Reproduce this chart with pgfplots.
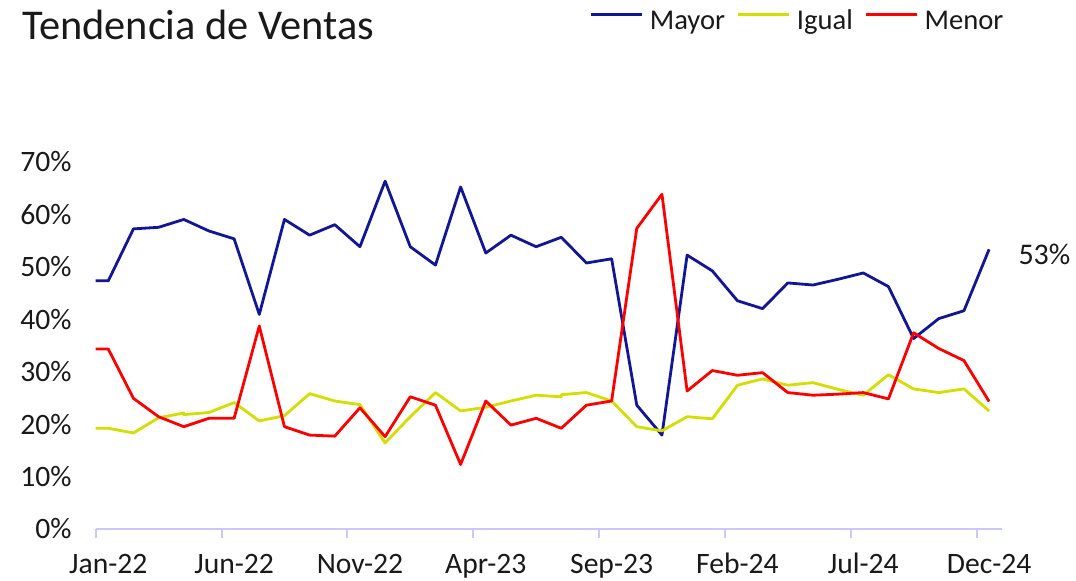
\documentclass[border=0pt]{standalone}
\usepackage{fontspec}
\setmainfont{Carlito}
\usepackage{pgfplots}
\usepackage{pgfplotstable}
\pgfplotsset{compat=1.18}
\definecolor{cMayor}{RGB}{16,22,150}
\definecolor{cIgual}{RGB}{212,222,0}
\definecolor{cMenor}{RGB}{255,0,0}
\definecolor{cAxis}{RGB}{200,200,250}

\pgfplotstableread{
x v
0 47.3
0.5 47.3
1.5 57.2
2.5 57.5
3.5 59.0
4.5 56.8
5.5 55.3
6.5 40.9
7.5 59.0
8.5 56.0
9.5 58.0
10.5 53.8
11.5 66.3
12.5 53.8
13.5 50.3
14.5 65.2
15.5 52.6
16.5 56.0
17.5 53.8
18.5 55.6
19.5 50.7
20.5 51.5
21.5 23.6
22.5 17.9
23.5 52.2
24.5 49.2
25.5 43.5
26.5 42.0
27.5 46.9
28.5 46.5
29.5 47.6
30.5 48.8
31.5 46.2
32.5 36.3
33.5 40.1
34.5 41.6
35.5 53.3
}\mayor

\pgfplotstableread{
x v
0 19.2
0.5 19.2
1.5 18.3
2.5 21.2
3.5 22.1
3.5 21.8
4.5 22.2
5.5 24.1
6.5 20.6
7.5 21.6
8.5 25.8
9.5 24.4
10.5 23.7
11.5 16.4
12.5 21.4
13.5 26.0
14.5 22.5
15.5 23.2
16.5 24.4
17.5 25.5
18.5 25.2
18.5 25.6
19.5 26.0
20.5 24.4
21.5 19.5
22.5 18.7
23.5 21.4
24.5 21.0
25.5 27.4
26.5 28.6
27.5 27.4
28.5 27.9
29.5 26.6
30.5 25.5
31.5 29.4
32.5 26.7
33.5 26.0
34.5 26.7
35.5 22.5
}\igual

\pgfplotstableread{
x v
0 34.3
0.5 34.3
1.5 24.9
2.5 21.4
3.5 19.5
4.5 21.1
5.5 21.1
6.5 38.7
7.5 19.5
8.5 17.9
9.5 17.7
10.5 23.1
11.5 17.6
12.5 25.2
13.5 23.6
14.5 12.3
15.5 24.4
16.5 19.8
17.5 21.1
18.5 19.2
19.5 23.6
20.5 24.4
21.5 57.3
22.5 63.8
23.5 26.3
24.5 30.2
25.5 29.3
26.5 29.8
27.5 26.0
28.5 25.5
29.5 25.7
30.5 26.0
31.5 24.8
32.5 37.4
33.5 34.4
34.5 32.1
35.5 24.3
}\menor

\begin{document}
\begin{tikzpicture}[x=1pt,y=1pt]
\useasboundingbox (-47.85,-25.5) rectangle (490.15,264.5);
\begin{axis}[
  at={(0,0)}, anchor=south west,
  scale only axis, width=453pt, height=183.65pt,
  xmin=0, xmax=36, ymin=0, ymax=70,
  clip=false,
  axis x line*=bottom, axis y line*=left,
  axis line style={-},
  x axis line style={cAxis, line width=1pt},
  y axis line style={draw=none},
  xtick={0,5,...,35},
  xticklabels={Jan-22,Jun-22,Nov-22,Apr-23,Sep-23,Feb-24,Jul-24,Dec-24},
  xtick style={cAxis, line width=1pt},
  tick align=outside, major tick length=4.5pt,
  ytick={0,10,...,70},
  yticklabels={0\%,10\%,20\%,30\%,40\%,50\%,60\%,70\%},
  ytick style={draw=none},
  tick label style={font=\fontsize{14.8}{16}\selectfont, text=black!90},
  xticklabel style={anchor=base, inner sep=0pt, xshift=6.3pt, yshift=-17.5pt},
  yticklabel style={anchor=east, inner sep=0pt, xshift=-7.35pt},
  legend columns=3,
  legend style={at={(axis description cs:0.5456,1.4147)}, anchor=north west,
    draw=none, fill=none, inner sep=0pt, outer sep=0pt,
    font=\fontsize{14.3}{16}\selectfont,
    nodes={inner sep=0pt, text=black!90, text height=10pt, text depth=3pt},
    /tikz/every odd column/.append style={column sep=3pt},
    /tikz/every even column/.append style={column sep=6pt}},
  legend image code/.code={\draw[#1] (0pt,4.15pt) -- (25.5pt,4.15pt);},
  every axis plot/.append style={line width=1.4pt, line join=round, no markers},
]
\addplot[cMayor] table[x=x,y=v] {\mayor};
\addlegendentry{Mayor}
\addplot[cIgual] table[x=x,y=v] {\igual};
\addlegendentry{Igual}
\addplot[cMenor] table[x=x,y=v] {\menor};
\addlegendentry{Menor}
\node[anchor=base west, font=\fontsize{15}{17}\selectfont, text=black!90, inner sep=0pt, xshift=14.5pt, yshift=-7.5pt] at (axis cs:35.5,53.3) {53\%};
\node[anchor=base west, font=\fontsize{21.2}{24}\selectfont, text=black!90, inner sep=0pt] at (axis description cs:-0.0817,1.3333) {Tendencia de Ventas};
\end{axis}
\end{tikzpicture}
\end{document}
